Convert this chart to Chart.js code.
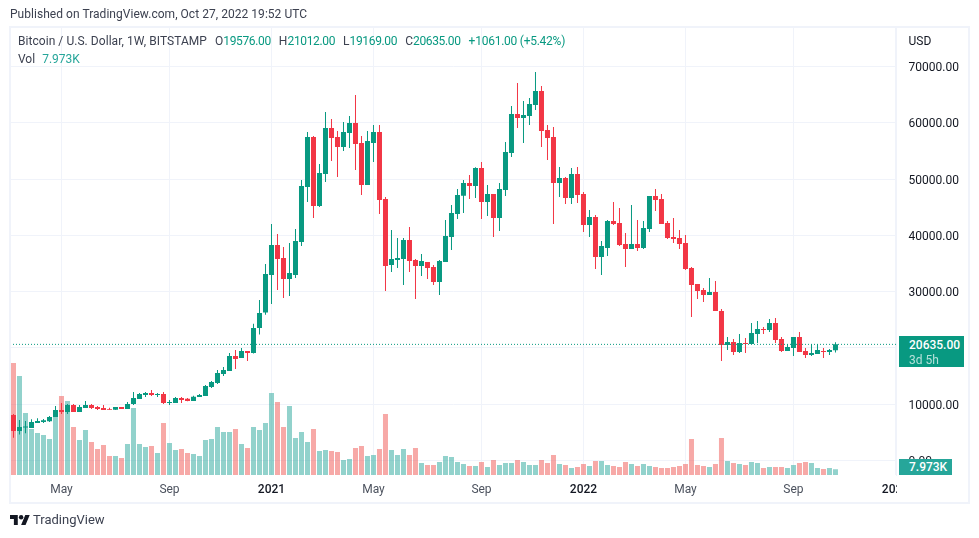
<!DOCTYPE html>
<html>
<head>
<meta charset="utf-8">
<title>Bitcoin / U.S. Dollar</title>
<script src="https://cdn.jsdelivr.net/npm/chart.js@4"></script>
<style>
  html, body { margin: 0; padding: 0; background: #fff; }
  body { width: 979px; height: 538px; position: relative; overflow: hidden; font-family: Roboto, sans-serif; font-size: 12px; color: #131722; }
  canvas { position: absolute; left: 0; top: 0; }
  .abs { position: absolute; white-space: nowrap; line-height: 16px; }
  .frame { position: absolute; left: 9px; top: 26px; width: 957px; height: 474px; border: 2px solid #f0f3fa; }
  .up { color: #089981; letter-spacing: -0.35px; }
  .change { color: #089981; letter-spacing: -0.25px; }
  .vol { color: #26a69a; }
  .gap { margin-left: 8px; }
  .tag { position: absolute; color: #fff; padding-left: 10px; box-sizing: border-box; }
</style>
</head>
<body>
<canvas id="btcChart" width="979" height="538"></canvas>
<div class="frame"></div>
<div class="abs" style="left:10px;top:6px;color:#3c4150;letter-spacing:.04px">Published on TradingView.com, Oct 27, 2022 19:52 UTC</div>
<div class="abs" style="left:18px;top:33px;color:#3c4150;letter-spacing:.05px">Bitcoin / U.S. Dollar, 1W, BITSTAMP<span class="gap" style="margin-left:8px">O</span><span class="up">19576.00</span><span class="gap">H</span><span class="up">21012.00</span><span class="gap">L</span><span class="up">19169.00</span><span class="gap">C</span><span class="up">20635.00</span><span class="change gap">+1061.00 (+5.42%)</span></div>
<div class="abs" style="left:18px;top:51px;color:#3c4150">Vol<span class="vol" style="margin-left:7px">7.973K</span></div>
<div class="abs" style="left:908.5px;top:33px;color:#131722">USD</div>
<div class="abs" style="left:897px;top:476px;width:69px;height:24px;background:#fff"></div>
<div class="tag" style="left:899px;top:336px;width:65px;height:31px;background:#089981;line-height:15px;padding-top:2px">
  <div style="font-weight:500">20635.00</div>
  <div style="opacity:.7">3d 5h</div>
</div>
<div class="tag" style="left:899px;top:459px;width:53px;height:16px;background:#26a69a;line-height:16px;font-weight:500">7.973K</div>
<svg class="abs" style="left:10px;top:515px" width="20" height="10" viewBox="0 4 36 18"><path fill="#131722" d="M14 22H7V11H0V4h14v18zM28 22h-8l7.5-18h8L28 22z"/><circle fill="#131722" cx="20" cy="8" r="4"/></svg>
<div class="abs" style="left:33px;top:512px;font-size:13px;color:#3c4150">TradingView</div>
<script>
const opens = [
  8086, 5250, 5880, 5776, 6665, 6842, 6960, 7730, 8974, 8619,
  9863, 8619, 9330, 9863, 9508, 9330, 9152, 9000, 9508, 9152,
  10040, 10930, 11640, 11995, 11640, 11817, 10218, 10218, 11107, 10988,
  10574, 11285, 11463, 13062, 13772, 15372, 15904, 18570, 18215, 19458,
  19103, 23545, 26300, 32964, 38295, 35985, 32254, 32964, 38828, 48601,
  57486, 45225, 50911, 59085, 57486, 55709, 58196, 59973, 56420, 48956,
  56420, 58374, 46469, 34741, 35630, 35807, 39184, 35630, 34563, 35275,
  34385, 31721, 35275, 39717, 43804, 47062, 49313, 48780, 51978, 45937,
  47358, 43094, 48069, 54644, 61574, 60863, 61218, 63173, 65661, 58731,
  57487, 49313, 50202, 46647, 50913, 47358, 41850, 43272, 36164, 37763,
  42561, 42206, 38474, 37585, 38474, 37763, 41139, 47003, 46469, 42204,
  39717, 39539, 38650, 34208, 31366, 30300, 29411, 29944, 26567, 20526,
  21059, 19282, 20881, 20704, 22481, 23369, 23191, 24435, 21592, 19460,
  19993, 21947, 19460, 18750, 18927, 19460, 19282, 19576
];
const highs = [
  8264, 7190, 7020, 7316, 7494, 7375, 7908, 9685, 10218, 10040,
  10040, 9863, 10574, 10040, 9685, 9863, 9390, 9508, 9508, 10396,
  12173, 11995, 12173, 12528, 11995, 12173, 10751, 11285, 11285, 11107,
  11522, 11818, 13417, 14128, 16082, 16615, 19103, 19636, 19991, 19458,
  24300, 28522, 34919, 42027, 40250, 37940, 38650, 41138, 49845, 58374,
  57663, 52689, 61928, 60684, 58552, 60151, 61217, 64949, 57663, 58552,
  59618, 59618, 46825, 40961, 39539, 39539, 41493, 35807, 36696, 35275,
  34741, 35630, 42738, 45403, 48245, 49846, 50735, 52100, 53044, 48958,
  47358, 49313, 56598, 62995, 67082, 63884, 64417, 69037, 66549, 59619,
  59264, 52156, 50380, 51978, 52156, 47714, 44516, 43628, 39007, 42739,
  45937, 44871, 40428, 45404, 42739, 42561, 47003, 48247, 47357, 42560,
  43093, 40960, 40072, 34386, 31366, 30655, 32431, 31898, 26923, 21947,
  21592, 22481, 21769, 24435, 24790, 23725, 25146, 25324, 21947, 20704,
  21947, 22836, 19993, 20704, 20704, 19993, 19816, 21012
];
const lows = [
  4059, 4600, 4828, 5776, 6665, 6665, 6842, 7730, 8264, 8264,
  8619, 8619, 9330, 9152, 8974, 8974, 9000, 9000, 9152, 9152,
  9863, 10930, 11285, 11463, 11285, 10040, 9863, 10218, 10219, 10515,
  10574, 11285, 11463, 12884, 13595, 15016, 15904, 16260, 18215, 17681,
  19000, 22400, 25900, 27811, 30300, 28877, 29233, 32432, 38118, 45936,
  43093, 45047, 49490, 53221, 50378, 54998, 55531, 51622, 47179, 48956,
  53043, 43804, 30122, 33497, 34208, 31188, 33497, 28700, 32787, 32254,
  31188, 29411, 35275, 37407, 42915, 43983, 46470, 46647, 42917, 43450,
  39718, 40784, 47003, 53933, 59086, 56421, 59619, 62284, 55710, 53400,
  42027, 46825, 45582, 45582, 45760, 40606, 39718, 34032, 32965, 36342,
  41850, 38118, 34387, 37585, 37230, 37585, 40606, 44338, 42027, 39361,
  38650, 37584, 33853, 25501, 28700, 28167, 29411, 26567, 17683, 19638,
  18749, 19105, 19105, 20704, 20881, 22481, 22836, 20881, 19282, 19460,
  18572, 19282, 18217, 18572, 18927, 18217, 18750, 19169
];
const closes = [
  5243, 5950, 6060, 6842, 7020, 7138, 7730, 8974, 8619, 9863,
  8619, 9508, 9863, 9330, 9152, 8974, 9000, 9508, 9152, 10040,
  11107, 11817, 11995, 11640, 11817, 10218, 10396, 11107, 10752, 10574,
  11344, 11640, 13239, 13950, 15549, 16082, 18570, 18037, 19458, 19103,
  23545, 26210, 33143, 38295, 35807, 32254, 33320, 39006, 48779, 57486,
  45225, 51089, 59085, 57308, 55709, 58374, 59973, 56242, 48956, 56775,
  58374, 46291, 34563, 35807, 35985, 39184, 35452, 34563, 35452, 34208,
  31721, 35452, 39895, 43981, 47179, 49313, 48780, 51978, 45937, 47358,
  43094, 48247, 54821, 61574, 60863, 61396, 63351, 65661, 58553, 57309,
  49313, 50202, 46647, 50913, 47180, 41850, 43272, 36164, 38119, 42561,
  42028, 38296, 37585, 38474, 37763, 41317, 47003, 46292, 42027, 39539,
  39361, 38473, 34030, 31187, 30122, 29411, 29944, 26567, 20526, 21059,
  19282, 20881, 20704, 22659, 23369, 23191, 24435, 21414, 19460, 20171,
  21947, 19282, 18750, 19105, 19638, 19282, 19638, 20635
];
// weekly volume in thousands of BTC
const volumes = [
  156.8, 138.6, 86.8, 64.4, 58.8, 56, 50.4, 82.6, 110.6, 103.6,
  67.2, 49, 63, 46.2, 36.4, 42, 26.6, 26.6, 23.8, 43.4,
  93.8, 43.4, 39.2, 40.6, 30.8, 72.8, 44.8, 35, 36.4, 30.8,
  29.4, 26.6, 49, 50.4, 67.2, 60.2, 60.2, 64.4, 43.4, 37.8,
  67.2, 63, 72.8, 114.8, 102.2, 67.2, 96.6, 51.8, 60.2, 46.2,
  64.4, 33.6, 35, 33.6, 32.2, 21, 22.4, 37.8, 40.6, 26.6,
  28, 36.4, 85.4, 35, 28, 36.4, 28, 37.8, 16.8, 14,
  14, 18.2, 26.6, 25.2, 18.2, 15.4, 12.6, 12.6, 18.2, 11.2,
  21, 14, 16.8, 16.8, 21, 18.2, 14, 14, 21, 16.8,
  28, 15.4, 14, 9.8, 11.2, 15.4, 12.6, 19.6, 19.6, 14,
  12.6, 11.2, 18.2, 15.4, 12.6, 15.4, 12.6, 11.2, 9.8, 9.8,
  11.2, 12.6, 15.4, 50.4, 14, 12.6, 11.2, 15.4, 51.8, 19.6,
  16.8, 15.4, 14, 18.2, 16.8, 9.8, 11.2, 11.2, 11.2, 9.8,
  14, 16.8, 18.2, 16.8, 9.8, 8.4, 9.8, 7.973
];
const lastPrice = 20635;
const priceTicks = [0, 10000, 20000, 30000, 40000, 50000, 60000, 70000];
const timeTickWeeks = [8, 26, 43, 60, 78, 95, 112, 130, 147];
const timeTickLabels = ['May', 'Sep', '2021', 'May', 'Sep', '2022', 'May', 'Sep', '2023'];
const yearLabels = ['2021', '2022', '2023'];

const green = '#089981';
const red = '#f23645';
const weeks = opens.map((o, i) => i);
const candleColors = weeks.map(i => closes[i] >= opens[i] ? green : red);
const volumeColors = weeks.map(i => closes[i] >= opens[i] ? 'rgba(38,166,154,0.5)' : 'rgba(239,83,80,0.5)');

const weekMin = -0.5;
const weekMax = 147.17;

function labelAt(value) {
  return timeTickLabels[timeTickWeeks.indexOf(value)];
}

function isYearTick(ctx) {
  return !!ctx.tick && yearLabels.includes(labelAt(ctx.tick.value));
}

new Chart(document.getElementById('btcChart'), {
  data: {
    datasets: [
      {
        type: 'bar',
        order: 3,
        yAxisID: 'yVol',
        data: weeks.map(i => ({ x: i, y: volumes[i] })),
        backgroundColor: volumeColors,
        barThickness: 5
      },
      {
        type: 'bar',
        order: 2,
        data: weeks.map(i => ({ x: i, y: [lows[i], highs[i]] })),
        backgroundColor: candleColors,
        barThickness: 1
      },
      {
        type: 'bar',
        order: 1,
        data: weeks.map(i => ({ x: i, y: [opens[i], closes[i]] })),
        backgroundColor: candleColors,
        barThickness: 5
      },
      {
        type: 'line',
        order: 0,
        data: [{ x: weekMin, y: lastPrice }, { x: weekMax, y: lastPrice }],
        borderColor: green,
        borderWidth: 1,
        borderDash: [1, 2],
        borderDashOffset: 0.5,
        pointRadius: 0
      }
    ]
  },
  options: {
    responsive: false,
    animation: false,
    devicePixelRatio: 1,
    layout: { padding: { left: 10.5, top: 28, right: 11.5, bottom: 0 } },
    // inflateAmount defaults to 0.33 with a fixed thickness, that smears the 5px bars together
    datasets: { bar: { grouped: false, inflateAmount: 0 } },
    plugins: { legend: { display: false }, tooltip: { enabled: false } },
    scales: {
      x: {
        type: 'linear',
        offset: false,
        min: weekMin,
        max: weekMax,
        afterBuildTicks: scale => { scale.ticks = timeTickWeeks.map(v => ({ value: v })); },
        afterFit: scale => { scale.height = 63; },
        grid: { color: '#f0f3fa', drawTicks: false, offset: false },
        border: { display: false },
        ticks: {
          padding: 8,
          autoSkip: false,
          maxRotation: 0,
          callback: v => labelAt(v),
          color: ctx => isYearTick(ctx) ? '#131722' : '#4c525e',
          font: ctx => ({
            family: 'Roboto',
            size: 12,
            weight: isYearTick(ctx) ? '500' : '400'
          })
        }
      },
      y: {
        position: 'right',
        min: -2576,
        max: 76850,
        afterBuildTicks: scale => { scale.ticks = priceTicks.map(v => ({ value: v })); },
        afterFit: scale => { scale.width = 71; },
        grid: { color: '#f0f3fa', drawTicks: false },
        border: { color: '#f0f3fa' },
        ticks: {
          padding: 12,
          labelOffset: 1.5,
          color: '#131722',
          font: { family: 'Roboto', size: 12 },
          callback: v => v.toFixed(2)
        }
      },
      yVol: {
        display: false,
        min: 0,
        max: 625.8
      }
    }
  }
});
</script>
</body>
</html>
